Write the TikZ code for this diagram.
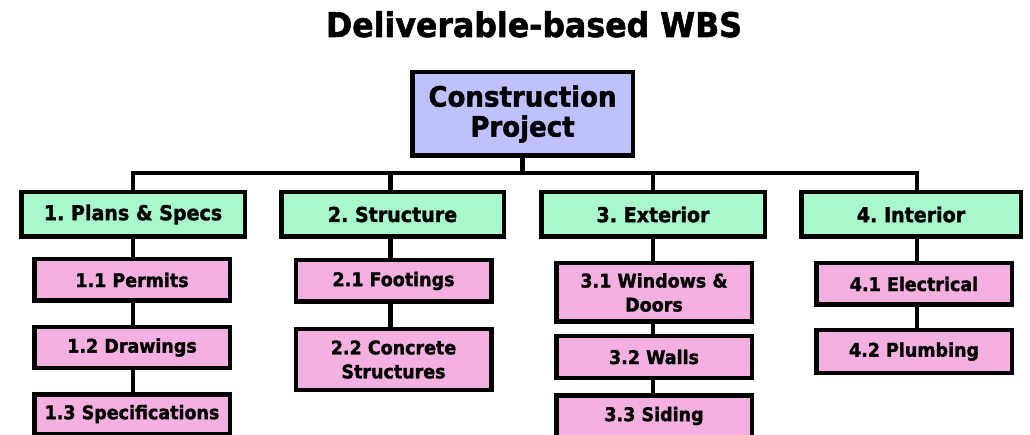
\documentclass[tikz,border=0pt]{standalone}
\usepackage{fontspec}
\setmainfont{DejaVu Sans}[BoldFeatures={FakeBold=1.6, FakeStretch=0.93}]
\definecolor{rootfill}{RGB}{191,192,255}
\definecolor{phasefill}{RGB}{168,248,204}
\definecolor{itemfill}{RGB}{244,176,224}
\frenchspacing
\begin{document}
\begin{tikzpicture}[x=1pt,y=-1pt,
  box/.style={draw=black, line width=4.5pt, inner sep=0pt, align=center},
  rootbox/.style={box, fill=rootfill, minimum width=220.5pt, minimum height=83.5pt,
    font=\fontsize{28}{30}\selectfont\bfseries},
  phasebox/.style={box, fill=phasefill, minimum height=44.5pt,
    font=\fontsize{20.5}{23}\selectfont\bfseries},
  itembox/.style={box, fill=itemfill, minimum width=195.5pt,
    font=\fontsize{18.8}{24}\selectfont\bfseries},
  conn/.style={line width=4.5pt}]
\useasboundingbox (0,0) rectangle (1030,435);
\clip (0,0) rectangle (1030,435);
\fill[white] (0,0) rectangle (1030,435);

% title
\node[anchor=base, font=\fontsize{34}{38}\selectfont\bfseries] (title) at (534,37) {Deliverable-based WBS};

% root
\node[rootbox] (root) at (522.5,114) {Construction\\Project};

% phases
\node[phasebox, minimum width=223.5pt] (p1) at (133,214.5) {1. Plans \& Specs};
\node[phasebox, minimum width=222.5pt] (p2) at (392.5,214.5) {2. Structure};
\node[phasebox, minimum width=223.5pt] (p3) at (653,214.5) {3. Exterior};
\node[phasebox, minimum width=219.5pt] (p4) at (911,214.5) {4. Interior};

% work packages
\node[itembox, minimum height=41.5pt] (w11) at (132,280) {1.1 Permits};
\node[itembox, minimum height=40.5pt] (w12) at (132,347.5) {1.2 Drawings};
\node[itembox, minimum height=39.5pt] (w13) at (132,414) {1.3 Specifications};

\node[itembox, minimum height=41.5pt] (w21) at (393.5,281) {2.1 Footings};
\node[itembox, minimum height=60.5pt] (w22) at (393.5,359.5) {2.2 Concrete\\Structures};

\node[itembox, minimum height=58.5pt] (w31) at (654,292.5) {3.1 Windows \&\\Doors};
\node[itembox, minimum height=41.5pt] (w32) at (654,357) {3.2 Walls};
\node[itembox, minimum height=41.5pt] (w33) at (654,416) {3.3 Siding};

\node[itembox, minimum height=41.5pt] (w41) at (914,284) {4.1 Electrical};
\node[itembox, minimum height=42.5pt] (w42) at (914,351.5) {4.2 Plumbing};

% connectors: root to the bus, bus to phases
\coordinate (bus) at ([yshift=17pt]p1.north);
\draw[conn] (p1.north) |- ([xshift=6pt]p4.north |- bus) -- ([xshift=6pt]p4.north);
\draw[conn] (root.south) -- (root.south |- bus);
\draw[conn] ([xshift=-2pt]p2.north) -- ([xshift=-2pt]p2.north |- bus);
\draw[conn] (p3.north) -- (p3.north |- bus);

% connectors down each column
\draw[conn] (p1.south) -- (w11.north -| p1.south);
\draw[conn] (w11.south -| p1.south) -- (w12.north -| p1.south);
\draw[conn] (w12.south -| p1.south) -- (w13.north -| p1.south);

\draw[conn] ([xshift=-2pt]p2.south) -- ([xshift=-2pt]w21.north -| p2.south);
\draw[conn] ([xshift=-2pt]w21.south -| p2.south) -- ([xshift=-2pt]w22.north -| p2.south);

\draw[conn] (p3.south) -- (w31.north -| p3.south);
\draw[conn] (w31.south -| p3.south) -- (w32.north -| p3.south);
\draw[conn] (w32.south -| p3.south) -- (w33.north -| p3.south);

\draw[conn] ([xshift=6pt]p4.south) -- ([xshift=6pt]w41.north -| p4.south);
\draw[conn] ([xshift=6pt]w41.south -| p4.south) -- ([xshift=6pt]w42.north -| p4.south);
\end{tikzpicture}
\end{document}
